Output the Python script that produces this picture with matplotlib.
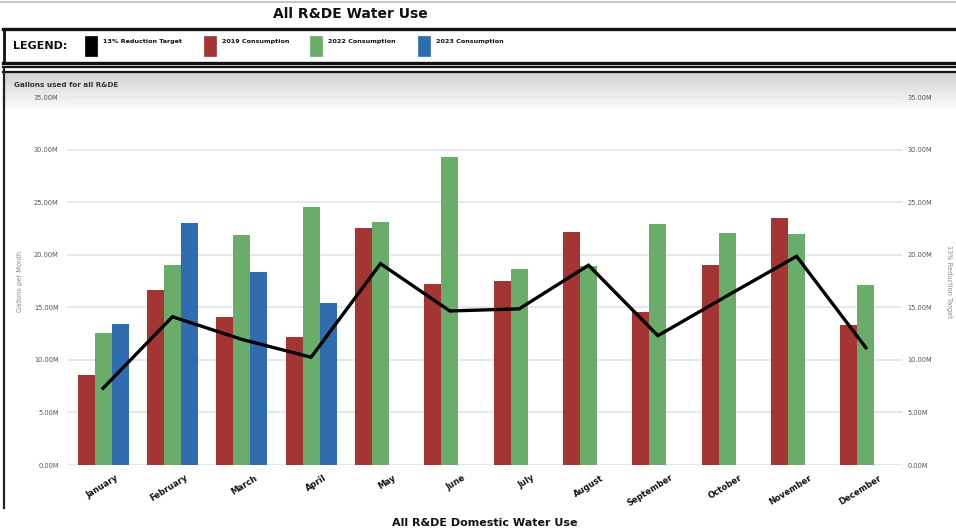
import numpy as np
import matplotlib
matplotlib.use("Agg")
import matplotlib.pyplot as plt
from matplotlib.patches import Rectangle
from matplotlib.lines import Line2D
import matplotlib.transforms as mtransforms

months = ["January", "February", "March", "April", "May", "June", "July",
          "August", "September", "October", "November", "December"]
cons_2019 = [8.6, 16.6, 14.05, 12.15, 22.55, 17.25, 17.5, 22.2, 14.55, 19.0, 23.45, 13.35]
cons_2022 = [12.55, 19.05, 21.85, 24.5, 23.15, 29.25, 18.65, 18.9, 22.9, 22.1, 22.0, 17.15]
cons_2023 = [13.45, 23.0, 18.4, 15.45]
target = [7.3, 14.1, 11.95, 10.25, 19.15, 14.65, 14.85, 19.0, 12.3, 16.1, 19.85, 11.15]
yticks = [0, 5, 10, 15, 20, 25, 30, 35]
ytick_labels = ["0.00M", "5.00M", "10.00M", "15.00M", "20.00M", "25.00M", "30.00M", "35.00M"]
legend_labels = ["13% Reduction Target", "2019 Consumption", "2022 Consumption", "2023 Consumption"]

C_RED = "#a53434"
C_GREEN = "#6aad6a"
C_BLUE = "#2f6cb0"
C_LINE = "#000000"

W, H = 956, 529
fig = plt.figure(figsize=(W / 100, H / 100), dpi=100)

def fx(px):
    return px / W

def fy(py):
    return 1 - py / H

# background / frame axes in pixel coordinates
bg = fig.add_axes([0, 0, 1, 1], zorder=0)
bg.set_xlim(0, W)
bg.set_ylim(H, 0)
bg.axis("off")

# top thin gray line
bg.add_line(Line2D([0, W], [1.5, 1.5], color="#bbbbbb", lw=1.2))
# title
bg.text(350, 14, "All R&DE Water Use", ha="center", va="center",
        fontsize=10, fontweight="bold", color="#111111")

# legend box
bg.add_line(Line2D([3, W], [29, 29], color="#111111", lw=2.4))
bg.add_line(Line2D([3, W], [63, 63], color="#111111", lw=2.4))
bg.add_line(Line2D([4, 4], [29, 63], color="#111111", lw=2.0))
bg.text(13, 46, "LEGEND:", ha="left", va="center", fontsize=8, fontweight="bold",
        color="#111111")
sw_x = [85, 204, 310, 418]
sw_col = [C_LINE, C_RED, C_GREEN, C_BLUE]
for x0, c, lab in zip(sw_x, sw_col, legend_labels):
    bg.add_patch(Rectangle((x0, 36), 12, 20, facecolor=c, edgecolor=c, lw=0.5))
    bg.text(x0 + 18, 41, lab, ha="left", va="center", fontsize=4.6,
            fontweight="bold", color="#111111")

# chart panel: double top line, gradient header, left line
grad = np.linspace(0.82, 1.0, 64).reshape(-1, 1)
bg.imshow(grad, cmap="gray", vmin=0, vmax=1, extent=[5, W, 112, 72],
          aspect="auto", zorder=0, interpolation="bilinear")
bg.add_line(Line2D([3, W], [67, 67], color="#111111", lw=1.6))
bg.add_line(Line2D([3, W], [71.5, 71.5], color="#111111", lw=1.6))
bg.add_line(Line2D([4.5, 4.5], [67, 508], color="#222222", lw=1.6))
bg.text(14, 85, "Gallons used for all R&DE", ha="left", va="center",
        fontsize=5.2, fontweight="bold", color="#333333")

# bottom caption
bg.text(485, 528.5, "All R&DE Domestic Water Use", ha="center", va="bottom",
        fontsize=8, fontweight="bold", color="#111111")

# main axes
left, right, top, bottom = 67, 902, 97, 465
ax = fig.add_axes([fx(left), fy(bottom), fx(right) - fx(left), fy(top) - fy(bottom)],
                  zorder=2)
ax.patch.set_alpha(0)
x = np.arange(len(months))
bw = 0.245
ax.bar(x - bw, cons_2019, width=bw, color=C_RED, zorder=3, linewidth=0)
ax.bar(x, cons_2022, width=bw, color=C_GREEN, zorder=3, linewidth=0)
ax.bar(x[:len(cons_2023)] + bw, cons_2023, width=bw, color=C_BLUE, zorder=3, linewidth=0)
ax.plot(x, target, color=C_LINE, lw=2.4, zorder=4, solid_joinstyle="miter")

ax.set_xlim(-0.52, 11.52)
ax.set_ylim(0, 35)
ax.set_yticks(yticks)
ax.set_yticklabels(ytick_labels)
ax.yaxis.grid(True, color="#dfe5ec", lw=1.2, zorder=0)
ax.set_axisbelow(True)
for s in ax.spines.values():
    s.set_visible(False)
ax.tick_params(axis="y", length=0, labelsize=4.8, labelcolor="#555555", pad=6)
ax.tick_params(axis="x", length=0, pad=3)
ax.set_xticks(x)
ax.set_xticklabels(months, rotation=32, ha="right", fontsize=6, fontweight="bold",
                   color="#111111", rotation_mode="anchor")
offset = mtransforms.ScaledTranslation(12 / 100, -4 / 100, fig.dpi_scale_trans)
for lab in ax.get_xticklabels():
    lab.set_transform(lab.get_transform() + offset)
ax.set_ylabel("Gallons per Month", fontsize=4.8, color="#888888", labelpad=8)

ax2 = ax.twinx()
ax2.set_ylim(0, 35)
ax2.set_yticks(yticks)
ax2.set_yticklabels(ytick_labels)
for s in ax2.spines.values():
    s.set_visible(False)
ax2.tick_params(axis="y", length=0, labelsize=4.8, labelcolor="#555555", pad=4)
ax2.set_ylabel("13% Reduction Target", fontsize=4.8, color="#888888",
               rotation=270, labelpad=14)

fig.savefig("out.png", dpi=100)
